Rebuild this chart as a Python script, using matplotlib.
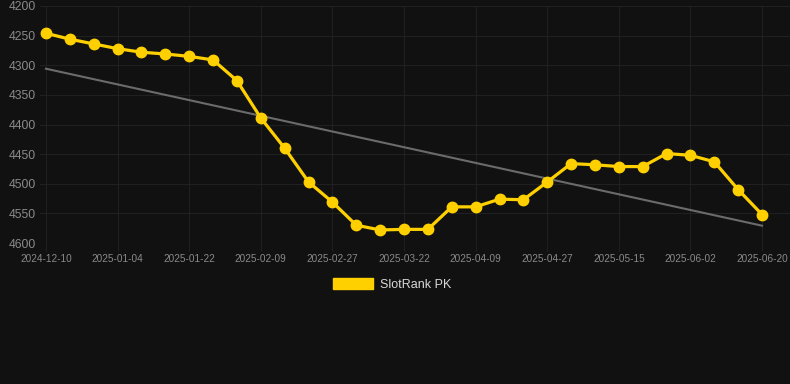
import matplotlib
matplotlib.use('Agg')
import matplotlib.pyplot as plt
import matplotlib.patches as mpatches
import numpy as np

# weekly rank values (lower rank number = better, axis is inverted)
rank = [4246, 4256, 4264, 4272, 4278, 4281, 4285, 4291, 4326, 4389,
        4440, 4497, 4531, 4570, 4578, 4577, 4577, 4539, 4539, 4526,
        4527, 4497, 4466, 4468, 4471, 4471, 4449, 4452, 4463, 4510,
        4552]
tick_labels = ['2024-12-10', '2025-01-04', '2025-01-22', '2025-02-09',
               '2025-02-27', '2025-03-22', '2025-04-09', '2025-04-27',
               '2025-05-15', '2025-06-02', '2025-06-20']
y_ticks = [4200, 4250, 4300, 4350, 4400, 4450, 4500, 4550, 4600]
series_name = 'SlotRank PK'

BG = '#111111'
GOLD = '#FFD000'
GRID = '#202020'
TXT = '#8a8a8a'

plt.rcParams['font.family'] = ['Liberation Sans', 'DejaVu Sans']

fig = plt.figure(figsize=(7.9, 3.84), dpi=100, facecolor=BG)
ax = fig.add_axes([40 / 790, 1 - 243 / 384, 750 / 790, 237 / 384])
ax.set_facecolor(BG)

x = np.arange(len(rank))

# linear trend over the whole period
k, b = np.polyfit(x, rank, 1)
ax.plot(x, k * x + b, color='#6b6b6b', linewidth=1.5, zorder=2)

ax.plot(x, rank, color=GOLD, linewidth=2.3, marker='o', markersize=7.5,
        markerfacecolor=GOLD, markeredgecolor=GOLD, zorder=3)

ax.set_ylim(4600, 4200)
ax.set_yticks(y_ticks)
ax.set_xlim(-0.25, 31.17)
ax.set_xticks(x[::3])
ax.set_xticklabels(tick_labels)

ax.grid(True, color=GRID, linewidth=0.8)
ax.set_axisbelow(True)
for s in ax.spines.values():
    s.set_visible(False)

ax.tick_params(axis='y', length=0, pad=3, labelsize=8.7, labelcolor=TXT)
ax.tick_params(axis='x', length=6, color=GRID, width=0.8, pad=2,
               labelsize=7.2, labelcolor=TXT)

patch = mpatches.Patch(facecolor=GOLD, edgecolor=GOLD, label=series_name)
leg = fig.legend(handles=[patch], loc='center',
                 bbox_to_anchor=(392 / 790, 1 - 284.5 / 384),
                 frameon=False, fontsize=9, handlelength=3.2,
                 handleheight=0.95, handletextpad=0.5)
for t in leg.get_texts():
    t.set_color('#d8d8d8')

fig.savefig('out.png', dpi=100, facecolor=BG)
